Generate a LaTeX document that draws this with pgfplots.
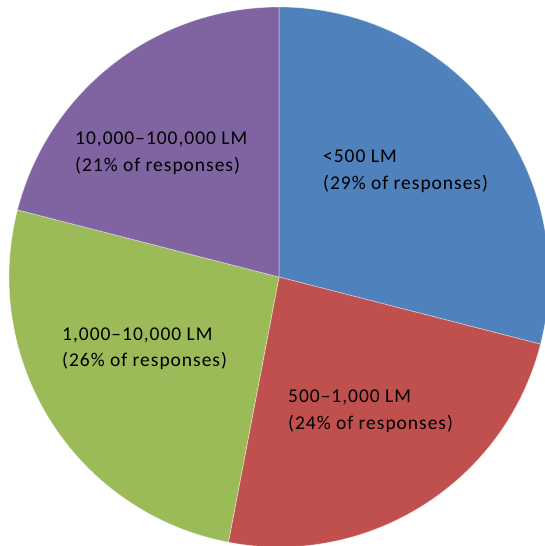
\documentclass[border=0pt]{standalone}
\usepackage{fontspec}
\setmainfont{Carlito}[LetterSpace=5]
\usepackage{pgfplots}
\pgfplotsset{compat=1.18}

\definecolor{sA}{HTML}{4F81BD}
\definecolor{sB}{HTML}{C0504D}
\definecolor{sC}{HTML}{9BBB59}
\definecolor{sD}{HTML}{8064A2}

% shares of responses (%)
\def\pA{29}\def\pB{24}\def\pC{26}\def\pD{21}
\pgfmathsetmacro\aA{90}
\pgfmathsetmacro\aB{\aA-3.6*\pA}
\pgfmathsetmacro\aC{\aB-3.6*\pB}
\pgfmathsetmacro\aD{\aC-3.6*\pC}
\pgfmathsetmacro\aE{\aD-3.6*\pD}

\newcommand{\pieslice}[3]{%
  \fill[#1, draw=white, draw opacity=0.45, line width=0.7pt]
    (axis cs:279,269) -- ++(#2:270pt)
    arc[start angle=#2, end angle=#3, radius=270pt] -- cycle;}

\begin{document}
\begin{tikzpicture}
\begin{axis}[
    name=ax,
    hide axis,
    scale only axis,
    width=545pt, height=546pt,
    xmin=0, xmax=545, ymin=0, ymax=546,
    clip=true,
]
\addplot[draw=none] coordinates {(0,0) (545,546)};
\pieslice{sA}{\aA}{\aB}
\pieslice{sB}{\aB}{\aC}
\pieslice{sC}{\aC}{\aD}
\pieslice{sD}{\aD}{\aE}
\begin{scope}[every node/.style={anchor=base west, inner sep=0pt, font=\fontsize{19.5}{27}\selectfont}]
\node at (axis cs:323,383) {<500 LM};
\node at (axis cs:323,356) {(29\% of responses)};
\node at (axis cs:288,143) {500–1,000 LM};
\node at (axis cs:288,116) {(24\% of responses)};
\node at (axis cs:62,205.5) {1,000–10,000 LM};
\node at (axis cs:62,179) {(26\% of responses)};
\node at (axis cs:75,401) {10,000–100,000 LM};
\node at (axis cs:75,374.5) {(21\% of responses)};
\end{scope}
\end{axis}
\pgfresetboundingbox
\path (ax.south west) rectangle (ax.north east);
\end{tikzpicture}
\end{document}
